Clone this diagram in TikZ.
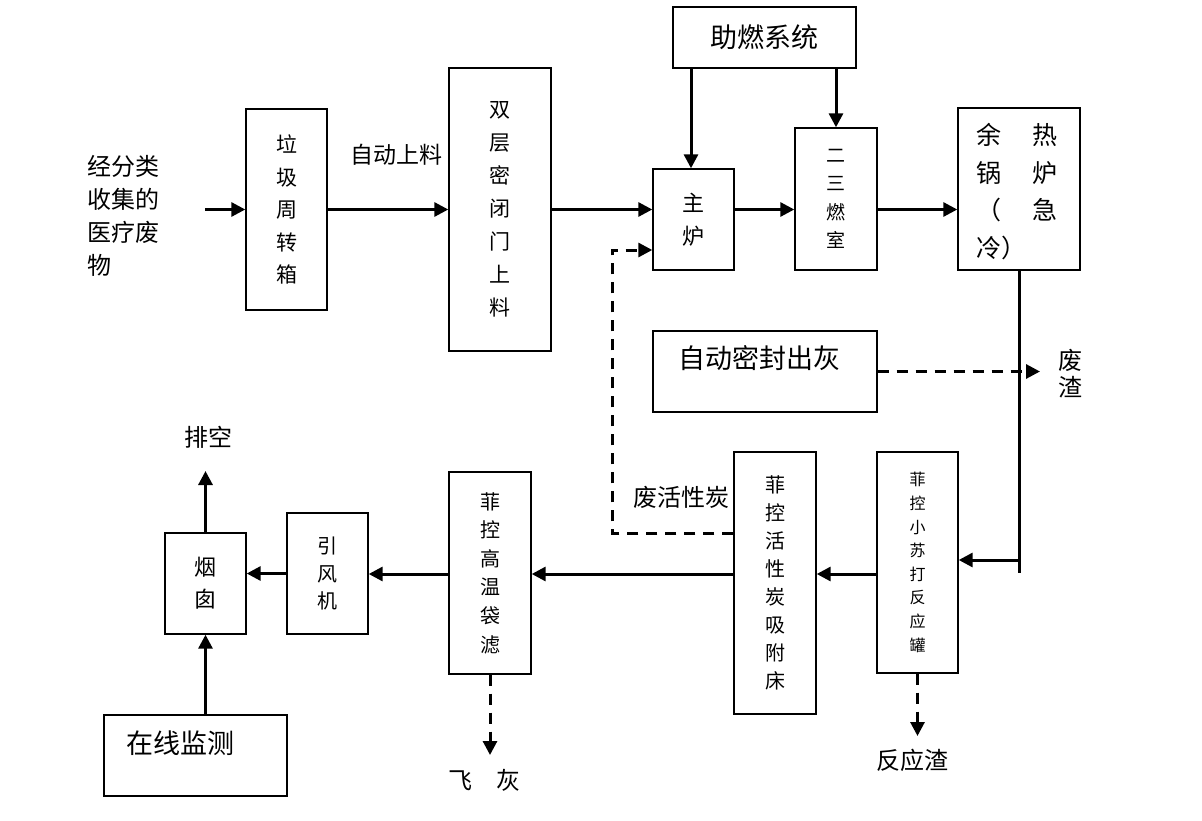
\documentclass[tikz,border=0pt]{standalone}
\usepackage{fontspec}
\setmainfont{Noto Sans CJK SC}
\usetikzlibrary{arrows.meta}
\newcommand{\fs}[2]{\fontsize{#1}{#2}\selectfont}
\begin{document}
\begin{tikzpicture}[x=1pt,y=-1pt,
  box/.style={draw, line width=1.4pt, inner sep=0pt, align=center},
  lbl/.style={inner sep=0pt, align=center},
  arr/.style={line width=3pt, -{Triangle[length=14pt,width=14pt]}},
  darr/.style={arr, dash pattern=on 11pt off 8pt},
  seg/.style={line width=3pt}
]
\useasboundingbox (0,0) rectangle (1202,821);

% boxes
\node[box, minimum width=81, minimum height=201, font=\fs{21}{32.5}] (zz) at (286.5,209.5) {垃\\圾\\周\\转\\箱};
\node[box, minimum width=102, minimum height=283, font=\fs{21}{33}] (sc) at (500,209.5) {双\\层\\密\\闭\\门\\上\\料};
\node[box, minimum width=81, minimum height=101, font=\fs{22}{33}] (zl) at (693.5,219.5) {主\\炉};
\node[box, minimum width=82, minimum height=142, font=\fs{19}{28.3}] (ec) at (836,199) {二\\三\\燃\\室};
\node[box, minimum width=183, minimum height=61, font=\fs{27}{30}] (zr) at (764.5,37.5) {助燃系统};
\node[box, minimum width=122, minimum height=162] (gl) at (1019,189) {};
\node[lbl, anchor=west, align=left, font=\fs{25}{37.7}] (gltxt) at (976,191.5)
  {\makebox[56pt][l]{余}热\\\makebox[56pt][l]{锅}炉\\\makebox[56pt][l]{（}急\\冷）};
\node[box, minimum width=224, minimum height=81] (hf) at (765,371.5) {};
\node[lbl, font=\fs{27}{30}] (hftxt) at (759,358) {自动密封出灰};
\node[box, minimum width=81, minimum height=221, font=\fs{16}{23.6}] (fy) at (917.5,562.5) {菲\\控\\小\\苏\\打\\反\\应\\罐};
\node[box, minimum width=82, minimum height=262, font=\fs{20}{28.1}] (xf) at (775,583) {菲\\控\\活\\性\\炭\\吸\\附\\床};
\node[box, minimum width=82, minimum height=202, font=\fs{20}{28.6}] (dl) at (490,573) {菲\\控\\高\\温\\袋\\滤};
\node[box, minimum width=81, minimum height=121, font=\fs{20}{27.5}] (yf) at (327.5,573.5) {引\\风\\机};
\node[box, minimum width=81, minimum height=101, font=\fs{22}{32}] (yc) at (205.5,583.5) {烟\\囱};
\node[box, minimum width=183, minimum height=81] (zx) at (195.5,755.5) {};
\node[lbl, font=\fs{27}{30}] (zxtxt) at (180,743) {在线监测};

% labels
\node[lbl, anchor=west, align=left, font=\fs{24}{33}] (src) at (87,216) {经分类\\收集的\\医疗废\\物};
\node[lbl, font=\fs{23}{26}] (zdsl) at (396,155) {自动上料};
\node[lbl, font=\fs{24}{27}] (fz) at (1070,373.5) {废\\渣};
\node[lbl, font=\fs{24}{27}] (pk) at (208,437) {排空};
\node[lbl, font=\fs{24}{27}] (fhxt) at (681,497) {废活性炭};
\node[lbl, font=\fs{24}{27}] (fh) at (484,780) {飞　灰};
\node[lbl, font=\fs{24}{27}] (fyz) at (912,760) {反应渣};

% coordinates
\coordinate (in) at (205,209.5);
\coordinate (glend) at (1019,573);
\coordinate (fzend) at (1040,371.5);
\coordinate (pkend) at (205.5,471);
\coordinate (fhend) at (490,755);
\coordinate (fyend) at (917.5,736);
\coordinate (r1) at (612,533);
\coordinate (r2) at (612,250);
\coordinate (row) at (0,574);

% connectors
\draw[arr] (in) -- (zz.west);
\draw[arr] (zz.east) -- (sc.west);
\draw[arr] (sc.east) -- (sc.east -| zl.west);
\draw[arr] (zl.east |- sc.east) -- (ec.west |- sc.east);
\draw[arr] (ec.east |- sc.east) -- (gl.west |- sc.east);
\draw[arr] ([xshift=-2.5pt]zl.north |- zr.south) -- ([xshift=-2.5pt]zl.north);
\draw[arr] (ec.north |- zr.south) -- (ec.north);
\draw[seg] (gl.south) -- (glend);
\draw[arr] ([yshift=2.5pt]fy.east -| gl.south) -- ([yshift=2.5pt]fy.east);
\draw[darr] (hf.east) -- (fzend);
\draw[arr] (fy.west |- row) -- (xf.east |- row);
\draw[arr] (xf.west |- row) -- (dl.east |- row);
\draw[arr] (dl.west |- row) -- (yf.east |- row);
\draw[arr] (yf.west) -- (yc.east |- yf.west);
\draw[arr] (yc.north) -- (pkend);
\draw[arr] (yc.south |- zx.north) -- (yc.south);
\draw[darr] (dl.south) -- (fhend);
\draw[darr] (fy.south) -- (fyend);
\draw[darr] (xf.west |- r1) -- (r1) -- (r2) -- (zl.west |- r2);
\end{tikzpicture}
\end{document}
